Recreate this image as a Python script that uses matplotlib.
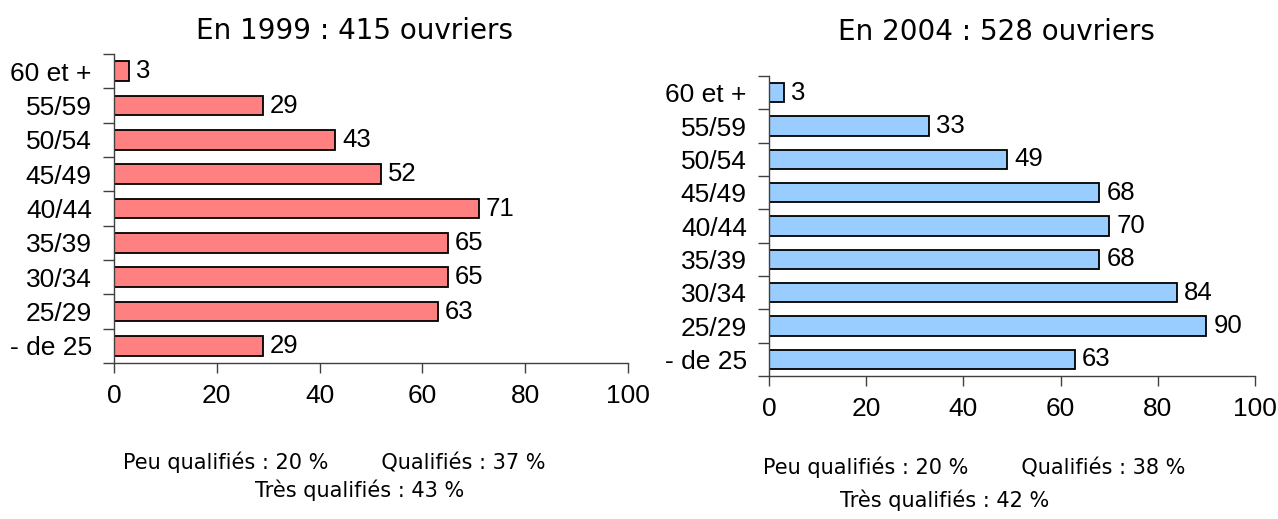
import numpy as np
import matplotlib.pyplot as plt
from matplotlib.ticker import FixedLocator

# age groups, bottom to top
ages = ['- de 25', '25/29', '30/34', '35/39', '40/44', '45/49', '50/54', '55/59', '60 et +']
v1999 = [29, 63, 65, 65, 71, 52, 43, 29, 3]
v2004 = [63, 90, 84, 68, 70, 68, 49, 33, 3]

titles = ['En 1999 : 415 ouvriers', 'En 2004 : 528 ouvriers']
peu = [20, 20]
qual = [37, 38]
tres = [43, 42]

W, H = 1278, 519
fig = plt.figure(figsize=(W / 100, H / 100), dpi=100)

tick_font = 'Liberation Sans'
txt_font = 'DejaVu Sans'
spine_col = '#404040'


def px_axes(x0, y0, x1, y1):
    return fig.add_axes([x0 / W, 1 - y1 / H, (x1 - x0) / W, (y1 - y0) / H])


def draw(ax, vals, color):
    y = np.arange(len(ages))
    bars = ax.barh(y, vals, height=0.58, color=color, edgecolor='black', linewidth=1.3)
    ax.bar_label(bars, padding=5, fontsize=18.5, family=tick_font)
    ax.set_xlim(0, 100)
    ax.set_ylim(-0.5, len(ages) - 0.5)
    ax.set_yticks(y)
    ax.set_yticklabels(ages, family=tick_font, fontsize=19)
    ax.yaxis.set_minor_locator(FixedLocator(np.arange(-0.5, len(ages), 1.0)))
    ax.tick_params(axis='y', which='major', length=0, pad=16)
    ax.tick_params(axis='y', which='minor', length=8, width=1, color=spine_col, direction='out')
    ax.set_xticks(np.arange(0, 101, 20))
    ax.tick_params(axis='x', length=7, width=1, color=spine_col, pad=8, labelsize=19)
    for lab in ax.get_xticklabels():
        lab.set_family(tick_font)
    for s in ['top', 'right']:
        ax.spines[s].set_visible(False)
    for s in ['left', 'bottom']:
        ax.spines[s].set_color(spine_col)
        ax.spines[s].set_linewidth(1)


ax1 = px_axes(114, 54, 628, 363)
draw(ax1, v1999, '#FF8080')
ax2 = px_axes(769, 76, 1255, 376)
draw(ax2, v2004, '#99CCFF')

# titles
fig.text(355 / W, 1 - 39 / H, titles[0], ha='center', va='baseline', fontsize=20, family=txt_font)
fig.text(996 / W, 1 - 40 / H, titles[1], ha='center', va='baseline', fontsize=20, family=txt_font)

# qualification notes
gap = ' ' * 8
fs = 15
fig.text(334 / W, 1 - 469 / H, f'Peu qualifiés : {peu[0]} %{gap}Qualifiés : {qual[0]} %',
         ha='center', va='baseline', fontsize=fs, family=txt_font)
fig.text(360 / W, 1 - 497 / H, f'Très qualifiés : {tres[0]} %',
         ha='center', va='baseline', fontsize=fs, family=txt_font)
fig.text(974 / W, 1 - 474 / H, f'Peu qualifiés : {peu[1]} %{gap}Qualifiés : {qual[1]} %',
         ha='center', va='baseline', fontsize=fs, family=txt_font)
fig.text(945 / W, 1 - 507 / H, f'Très qualifiés : {tres[1]} %',
         ha='center', va='baseline', fontsize=fs, family=txt_font)

fig.savefig('out.png', dpi=100)
